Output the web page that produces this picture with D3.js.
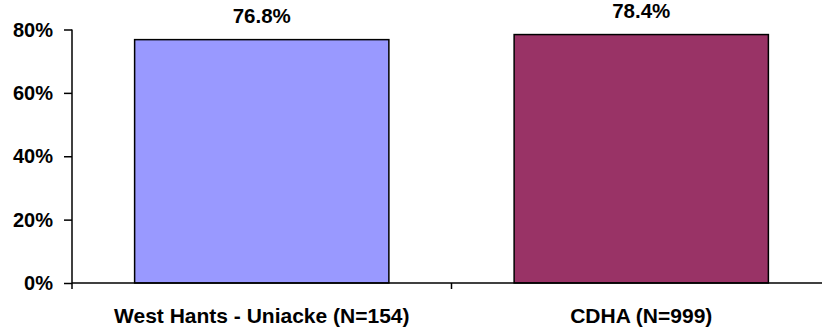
<!DOCTYPE html>
<html>
<head>
<meta charset="utf-8">
<script src="https://cdn.jsdelivr.net/npm/d3@7"></script>
<style>
  html, body { margin: 0; padding: 0; background: #fff; }
  svg text { font-family: "Liberation Sans", Arial, Helvetica, sans-serif; font-weight: bold; fill: #000; }
</style>
</head>
<body>
<svg id="chart" width="822" height="329"></svg>
<script>
// Share of respondents per area
const categories = ["West Hants - Uniacke (N=154)", "CDHA (N=999)"];
const values = [0.768, 0.784];
const valueLabels = ["76.8%", "78.4%"];
const barColors = ["#9999FF", "#993366"];
const yTicks = [0, 0.2, 0.4, 0.6, 0.8];

const svg = d3.select("#chart");

const x = d3.scaleBand()
  .domain(categories)
  .range([72, 831])
  .paddingInner(0.33)
  .paddingOuter(0.165);

const y = d3.scaleLinear()
  .domain([0, 0.8])
  .range([283, 29.5]);

// Y axis
const yAxis = svg.append("g")
  .attr("transform", "translate(72,0)")
  .call(d3.axisLeft(y).tickValues(yTicks).tickFormat(d3.format(".0%")).tickSize(8).tickPadding(11));
yAxis.select(".domain").attr("stroke", "#000").attr("stroke-width", 1.5).attr("d", `M0,${y(0)}V${y(0.8)}`);
yAxis.selectAll(".tick line").attr("stroke", "#000").attr("stroke-width", 1.5);
yAxis.selectAll(".tick text").attr("font-size", "20px").attr("dy", "0.33em");

// Bars
svg.append("g").selectAll("rect")
  .data(categories)
  .join("rect")
  .attr("x", d => x(d))
  .attr("y", (d, i) => y(values[i]))
  .attr("width", x.bandwidth())
  .attr("height", (d, i) => y(0) - y(values[i]))
  .attr("fill", (d, i) => barColors[i])
  .attr("stroke", "#000")
  .attr("stroke-width", 1.5);

// Value labels above bars
svg.append("g").selectAll("text")
  .data(categories)
  .join("text")
  .attr("x", d => x(d) + x.bandwidth() / 2)
  .attr("y", (d, i) => y(values[i]) - 16.5)
  .attr("text-anchor", "middle")
  .attr("font-size", "20.5px")
  .text((d, i) => valueLabels[i]);

// X axis with ticks on category boundaries
const xAxisG = svg.append("g").attr("transform", `translate(0,${y(0)})`);
xAxisG.append("line")
  .attr("x1", 72).attr("x2", 831)
  .attr("stroke", "#000").attr("stroke-width", 1.5);
const boundaries = d3.range(categories.length + 1).map(i => 72 + i * x.step());
xAxisG.selectAll(".bnd")
  .data(boundaries)
  .join("line")
  .attr("class", "bnd")
  .attr("x1", d => d).attr("x2", d => d)
  .attr("y1", 0).attr("y2", 6)
  .attr("stroke", "#000").attr("stroke-width", 1.5);

// Category labels
svg.append("g").selectAll("text")
  .data(categories)
  .join("text")
  .attr("x", d => x(d) + x.bandwidth() / 2)
  .attr("y", 323)
  .attr("text-anchor", "middle")
  .attr("font-size", "21px")
  .text(d => d);
</script>
</body>
</html>
